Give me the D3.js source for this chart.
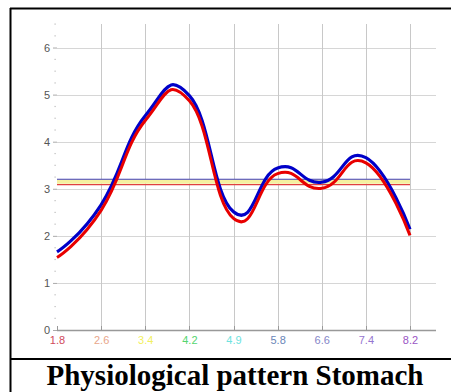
<!DOCTYPE html>
<html><head><meta charset="utf-8">
<script src="https://cdn.jsdelivr.net/npm/d3@7"></script>
<style>body{margin:0;background:#fff}svg{display:block}</style>
</head><body>
<svg id="c" width="451" height="392"></svg>
<script>
const categories = ["1.8","2.6","3.4","4.2","4.9","5.8","6.6","7.4","8.2"];
const labelColors = ["#d04a5a","#e8a68a","#f2f060","#55d56f","#6ee3e0","#6a86b8","#8585c8","#9575d0","#9a55c4"];
const blueValues = [1.66,2.66,4.55,4.98,2.51,3.44,3.14,3.66,2.14];
const redValues  = [1.54,2.54,4.45,4.87,2.37,3.32,3.01,3.55,2.01];
const refLines = [
  {value:3.20, color:"#4040c0"},
  {value:3.15, color:"#f5f0a0", width:4},
  {value:3.09, color:"#e04040"}
];
const yTicks = [0,1,2,3,4,5,6];
const title = "Physiological pattern Stomach";

const svg = d3.select("#c");
const x = d3.scalePoint().domain(categories).range([57,410]);
const y = d3.scaleLinear().domain([0,6.5]).range([330,24]);
const gridRight = 436;

// frame
svg.append("line").attr("x1",10).attr("x2",451).attr("y1",8.5).attr("y2",8.5).attr("stroke","#000").attr("stroke-width",2);
svg.append("line").attr("x1",10.5).attr("x2",10.5).attr("y1",8).attr("y2",392).attr("stroke","#000").attr("stroke-width",2);
svg.append("line").attr("x1",10).attr("x2",451).attr("y1",359).attr("y2",359).attr("stroke","#000").attr("stroke-width",2);

// horizontal grid
svg.append("g").selectAll("line").data(yTicks.slice(1)).join("line")
  .attr("x1",57).attr("x2",gridRight)
  .attr("y1",d=>Math.round(y(d))+0.5).attr("y2",d=>Math.round(y(d))+0.5)
  .attr("stroke","#d6d6d6");
// vertical grid
svg.append("g").selectAll("line").data(categories.slice(1)).join("line")
  .attr("x1",d=>Math.round(x(d))+0.5).attr("x2",d=>Math.round(x(d))+0.5)
  .attr("y1",24).attr("y2",330)
  .attr("stroke","#c8c8c8");

// minor ticks (dots)
svg.append("g").selectAll("rect").data(d3.range(0,6.51,0.25).filter(v=>v%1!==0)).join("rect")
  .attr("x",54.5).attr("y",d=>y(d)-0.5).attr("width",1.2).attr("height",1.2).attr("fill","#bbb");

// y axis labels
const ya = svg.append("g").attr("transform","translate(57,0)")
  .call(d3.axisLeft(y).tickValues(yTicks).tickSize(4).tickPadding(3).tickFormat(d3.format("d")));
ya.select(".domain").remove();
ya.selectAll(".tick line").attr("stroke","#aaa");
ya.selectAll(".tick text").attr("fill","#555").attr("font-family","Arial, 'Liberation Sans', sans-serif").attr("font-size",11);

// x axis
const xa = svg.append("g").attr("transform","translate(0,330)")
  .call(d3.axisBottom(x).tickSize(0).tickPadding(6));
xa.select(".domain").remove();
xa.selectAll(".tick text").attr("font-family","Arial, 'Liberation Sans', sans-serif").attr("font-size",11)
  .attr("fill",(d,i)=>labelColors[i]);
svg.append("line").attr("x1",57).attr("x2",gridRight).attr("y1",330.5).attr("y2",330.5).attr("stroke","#999").attr("stroke-width",1.3);
svg.append("g").selectAll("line").data(categories).join("line")
  .attr("x1",d=>Math.round(x(d))+0.5).attr("x2",d=>Math.round(x(d))+0.5)
  .attr("y1",326).attr("y2",330).attr("stroke","#999");

// reference lines
svg.append("g").selectAll("line").data(refLines).join("line")
  .attr("x1",57).attr("x2",410)
  .attr("y1",d=>y(d.value)).attr("y2",d=>y(d.value))
  .attr("stroke",d=>d.color).attr("stroke-width",d=>d.width||1.3);

// curves
const line = d3.line().x((d,i)=>x(categories[i])).y(d=>y(d)).curve(d3.curveCardinal.tension(-0.45));
svg.append("path").attr("d",line(blueValues)).attr("fill","none").attr("stroke","#0000c8").attr("stroke-width",3.2);
svg.append("path").attr("d",line(redValues)).attr("fill","none").attr("stroke","#e80000").attr("stroke-width",3);

// title
svg.append("text").attr("x",235).attr("y",385).attr("text-anchor","middle")
  .attr("font-family","'Liberation Serif','Times New Roman',serif").attr("font-weight","bold").attr("font-size",29)
  .attr("fill","#000").text(title);
</script>
</body></html>
